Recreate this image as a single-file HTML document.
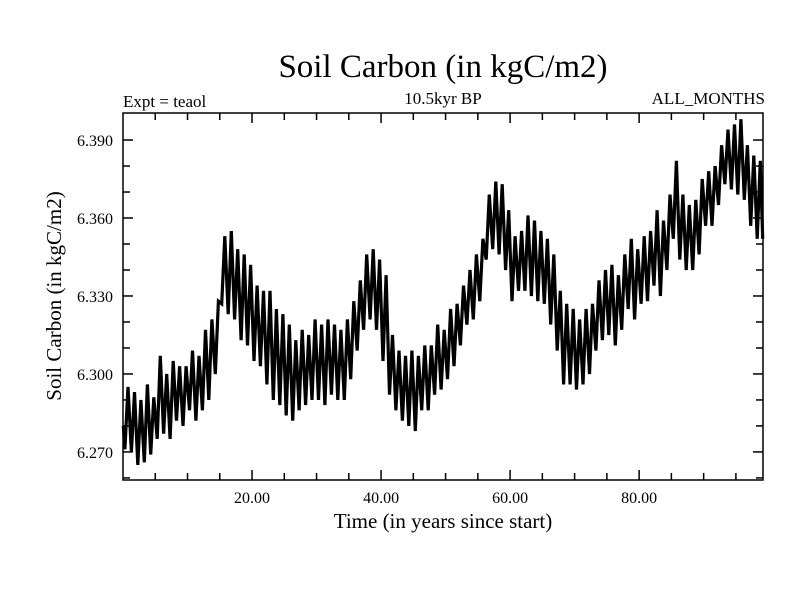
<!DOCTYPE html>
<html><head><meta charset="utf-8"><style>
body{margin:0;background:#fff;}
svg{display:block;font-family:"Liberation Serif",serif;}
</style></head><body>
<svg id="chart" width="800" height="600">
<rect width="800" height="600" fill="#fff"/>
<text x="443" y="77" font-size="33" text-anchor="middle">Soil Carbon (in kgC/m2)</text>
<text x="443" y="104" font-size="17" text-anchor="middle">10.5kyr BP</text>
<text x="123" y="107" font-size="17">Expt = teaol</text>
<text x="765" y="104" font-size="17" text-anchor="end">ALL_MONTHS</text>
<text x="443" y="528" font-size="21" text-anchor="middle">Time (in years since start)</text>
<text transform="translate(61,296) rotate(-90)" font-size="21" text-anchor="middle">Soil Carbon (in kgC/m2)</text>
<g id="ticks"></g>
<path id="series" fill="none" stroke="#000" stroke-width="3.2" stroke-linejoin="miter"/>
<rect x="123" y="113" width="640" height="367" fill="none" stroke="#000" stroke-width="1.5"/>
</svg>
<script>
const startValue = 6.280;
const yearlyLows = [6.271,6.270,6.265,6.266,6.269,6.275,6.277,6.275,6.282,6.280,6.286,6.282,6.286,6.290,6.300,6.327,6.323,6.321,6.313,6.311,6.305,6.303,6.296,6.290,6.288,6.284,6.282,6.286,6.288,6.290,6.290,6.288,6.292,6.290,6.290,6.298,6.309,6.317,6.321,6.317,6.305,6.292,6.286,6.282,6.280,6.278,6.286,6.286,6.292,6.294,6.298,6.303,6.311,6.319,6.321,6.328,6.344,6.348,6.346,6.340,6.328,6.332,6.332,6.330,6.328,6.327,6.319,6.309,6.296,6.296,6.294,6.296,6.300,6.309,6.313,6.315,6.311,6.317,6.325,6.321,6.327,6.328,6.334,6.330,6.340,6.352,6.344,6.340,6.340,6.346,6.357,6.357,6.365,6.373,6.371,6.369,6.367,6.357,6.352];
const yearlyHighs = [6.295,6.293,6.290,6.296,6.291,6.307,6.300,6.305,6.303,6.303,6.309,6.307,6.317,6.321,6.328,6.353,6.355,6.348,6.346,6.342,6.334,6.332,6.332,6.325,6.323,6.319,6.313,6.317,6.315,6.321,6.319,6.321,6.319,6.317,6.321,6.328,6.336,6.346,6.348,6.344,6.338,6.315,6.309,6.307,6.309,6.307,6.311,6.311,6.319,6.317,6.325,6.327,6.334,6.340,6.346,6.352,6.369,6.374,6.373,6.363,6.353,6.355,6.361,6.359,6.355,6.352,6.346,6.332,6.327,6.325,6.321,6.325,6.327,6.336,6.340,6.342,6.338,6.346,6.352,6.348,6.353,6.355,6.363,6.359,6.369,6.382,6.369,6.365,6.367,6.375,6.378,6.380,6.388,6.394,6.396,6.398,6.388,6.384,6.382];
const xMajorTicks = [20,40,60,80];
const xMajorLabels = ["20.00","40.00","60.00","80.00"];
const yMajorTicks = [6.27,6.30,6.33,6.36,6.39];
const yMajorLabels = ["6.270","6.300","6.330","6.360","6.390"];

const X0=123,X1=763,Y0=480,Y1=113;
const xMin=0,xMax=99.2,yMin=6.2592,yMax=6.4004;
function xs(t){return X0+(t-xMin)/(xMax-xMin)*(X1-X0);}
function ys(v){return Y0-(v-yMin)/(yMax-yMin)*(Y0-Y1);}

let d='M'+xs(0.04).toFixed(1)+','+ys(startValue).toFixed(1);
for(let i=0;i<yearlyLows.length;i++){
  d+=' L'+xs(i+0.3).toFixed(1)+','+ys(yearlyLows[i]).toFixed(1);
  d+=' L'+xs(i+0.78).toFixed(1)+','+ys(yearlyHighs[i]).toFixed(1);
}
d+=' L'+xs(99.15).toFixed(1)+','+ys(yearlyLows[yearlyLows.length-1]).toFixed(1);
document.getElementById('series').setAttribute('d',d);

const g=document.getElementById('ticks');
const NS='http://www.w3.org/2000/svg';
function line(x1,y1,x2,y2){const l=document.createElementNS(NS,'line');
l.setAttribute('x1',x1);l.setAttribute('y1',y1);l.setAttribute('x2',x2);l.setAttribute('y2',y2);
l.setAttribute('stroke','#000');l.setAttribute('stroke-width','1.5');


g.appendChild(l);}
for(let t=5;t<xMax;t+=5){const x=xs(t);const L=(t%20===0)?10:7;line(x,Y0,x,Y0-L);line(x,Y1,x,Y1+L);}
for(let k=0;k<14;k++){const v=6.26+k*0.01;if(v<yMin||v>yMax)continue;const y=ys(v);
 const major=yMajorTicks.some(m=>Math.abs(m-v)<1e-6);const L=major?10:7;line(X0,y,X0+L,y);line(X1,y,X1-L,y);}
xMajorTicks.forEach((t,i)=>{const tx=document.createElementNS(NS,'text');
tx.setAttribute('x',xs(t));tx.setAttribute('y',503);tx.setAttribute('font-size','16');tx.setAttribute('text-anchor','middle');
tx.textContent=xMajorLabels[i];


g.appendChild(tx);});
yMajorTicks.forEach((v,i)=>{const tx=document.createElementNS(NS,'text');
tx.setAttribute('x',113);tx.setAttribute('y',ys(v)+6);tx.setAttribute('font-size','16');tx.setAttribute('text-anchor','end');
tx.textContent=yMajorLabels[i];


g.appendChild(tx);});
</script>
</body></html>
